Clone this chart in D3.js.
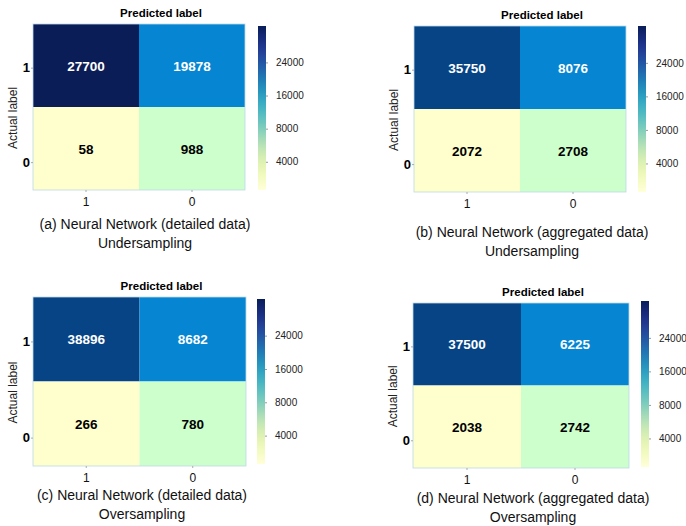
<!DOCTYPE html>
<html>
<head>
<meta charset="utf-8">
<script src="https://cdn.jsdelivr.net/npm/d3@7"></script>
<style>
  html, body { margin: 0; padding: 0; background: #ffffff; }
  svg { display: block; }
  text { font-family: "Liberation Sans", Arial, sans-serif; }
</style>
</head>
<body>
<svg id="chart" width="686" height="526"></svg>
<script>
// ---- data -------------------------------------------------------------
const predictedLabels = ["1", "0"];
const actualLabels = ["1", "0"];
const colorbarTicks = [4000, 8000, 16000, 24000];

const panelTags = ["(a)", "(b)", "(c)", "(d)"];
const modelNames = [
  "Neural Network (detailed data)",
  "Neural Network (aggregated data)",
  "Neural Network (detailed data)",
  "Neural Network (aggregated data)"
];
const samplingNames = ["Undersampling", "Undersampling", "Oversampling", "Oversampling"];

// rows = actual label (1, 0), columns = predicted label (1, 0)
const detailedUnder   = [[27700, 19878], [58, 988]];
const aggregatedUnder = [[35750, 8076], [2072, 2708]];
const detailedOver    = [[38896, 8682], [266, 780]];
const aggregatedOver  = [[37500, 6225], [2038, 2742]];
const matrices = [detailedUnder, aggregatedUnder, detailedOver, aggregatedOver];

// ---- layout of the four sub-plots -------------------------------------
const layouts = [
  { x0: 33,  x1: 245, y0: 24,  y1: 190, cx0: 258, cy0: 26,  cy1: 190, cap: 229, capX: 145 },
  { x0: 414, x1: 626, y0: 26,  y1: 192, cx0: 638, cy0: 26,  cy1: 192, cap: 237, capX: 532 },
  { x0: 33,  x1: 246, y0: 297, y1: 466, cx0: 257, cy0: 299, cy1: 464, cap: 500, capX: 142 },
  { x0: 413, x1: 629, y0: 303, y1: 468, cx0: 641, cy0: 301, cy1: 467, cap: 503, capX: 533 }
];

// cell shades, ordered from the smallest to the largest count of a matrix
const shadeRamp = ["#ffffcd", "#ccffcc", "#0585d2", "#074486"];
const shadeRampDeep = ["#ffffcd", "#ccffcc", "#0585d2", "#0b1d56"];

const svg = d3.select("#chart");
const font = '"Liberation Sans", Arial, sans-serif';

// shared gradient for the colour bars (YlGnBu, light at the bottom)
const defs = svg.append("defs");
const grad = defs.append("linearGradient")
  .attr("id", "ylgnbu").attr("x1", 0).attr("y1", 1).attr("x2", 0).attr("y2", 0);
d3.range(0, 1.0001, 0.05).forEach(t => {
  grad.append("stop").attr("offset", t).attr("stop-color", d3.interpolateYlGnBu(t));
});

matrices.forEach((m, i) => {
  const L = layouts[i];
  const g = svg.append("g");

  const x = d3.scaleBand().domain(predictedLabels).range([L.x0, L.x1]);
  const y = d3.scaleBand().domain(actualLabels).range([L.y0, L.y1]);
  const h = L.y1 - L.y0;
  const yLab = d3.scalePoint().domain(actualLabels)
    .range([L.y0 + 0.263 * h, L.y0 + 0.832 * h]);

  const cells = [];
  actualLabels.forEach((a, r) => predictedLabels.forEach((p, c) => {
    cells.push({ actual: a, predicted: p, value: m[r][c] });
  }));
  const sorted = cells.map(d => d.value).sort(d3.ascending);
  const shade = d3.scaleOrdinal().domain(sorted).range(i === 0 ? shadeRampDeep : shadeRamp);

  g.selectAll("rect.cell").data(cells).join("rect")
    .attr("class", "cell")
    .attr("x", d => x(d.predicted))
    .attr("y", d => y(d.actual))
    .attr("width", x.bandwidth())
    .attr("height", y.bandwidth())
    .attr("fill", d => shade(d.value));

  // faint frame around the matrix
  g.append("rect")
    .attr("x", L.x0).attr("y", L.y0)
    .attr("width", L.x1 - L.x0).attr("height", h)
    .attr("fill", "none").attr("stroke", "#bcd8e8").attr("stroke-width", 0.8);

  g.selectAll("text.val").data(cells).join("text")
    .attr("class", "val")
    .attr("x", d => x(d.predicted) + x.bandwidth() / 2)
    .attr("y", d => y(d.actual) + y.bandwidth() / 2 + 5)
    .attr("text-anchor", "middle")
    .attr("font-size", 13.5)
    .attr("font-weight", "bold")
    .attr("fill", d => sorted.indexOf(d.value) >= 2 ? "#ffffff" : "#000000")
    .text(d => d.value);

  // x axis (predicted label)
  const xAxis = g.append("g").attr("transform", `translate(0,${L.y1})`)
    .call(d3.axisBottom(x).tickSize(2).tickPadding(5));
  xAxis.select(".domain").remove();
  xAxis.selectAll("line").attr("stroke", "#aaaaaa");
  xAxis.selectAll("text").attr("font-size", 12).attr("font-family", font).attr("fill", "#111");

  // y axis (actual label)
  const yAxis = g.append("g").attr("transform", `translate(${L.x0},0)`)
    .call(d3.axisLeft(yLab).tickSize(2).tickPadding(1));
  yAxis.select(".domain").remove();
  yAxis.selectAll("line").attr("stroke", "#aaaaaa");
  yAxis.selectAll("text").attr("font-size", 13).attr("font-weight", "bold")
    .attr("font-family", font).attr("fill", "#000");

  g.append("text")
    .attr("x", (L.x0 + L.x1) / 2 + 22)
    .attr("y", L.y0 - 7)
    .attr("text-anchor", "middle")
    .attr("font-size", 11.5).attr("font-weight", "bold").attr("fill", "#000")
    .text("Predicted label");

  const midY = (yLab("1") + yLab("0")) / 2 + 3;
  g.append("text")
    .attr("transform", `translate(${L.x0 - 16},${midY}) rotate(-90)`)
    .attr("text-anchor", "middle")
    .attr("font-size", 12).attr("fill", "#222")
    .text("Actual label");

  // colour bar
  const cw = 8;
  g.append("rect")
    .attr("x", L.cx0).attr("y", L.cy0)
    .attr("width", cw).attr("height", L.cy1 - L.cy0)
    .attr("fill", "url(#ylgnbu)");
  const ch = L.cy1 - L.cy0;
  const cbar = d3.scalePoint().domain(colorbarTicks)
    .range([L.cy1 - 0.172 * ch, L.cy0 + 0.222 * ch]);
  const cAxis = g.append("g").attr("transform", `translate(${L.cx0 + cw},0)`)
    .call(d3.axisRight(cbar).tickSize(2).tickPadding(8));
  cAxis.select(".domain").remove();
  cAxis.selectAll("line").attr("stroke", "#999999");
  cAxis.selectAll("text").attr("font-size", 10).attr("font-family", font).attr("fill", "#222");

  // caption
  const cap = g.append("text")
    .attr("text-anchor", "middle")
    .attr("font-size", 14).attr("fill", "#111");
  cap.append("tspan").attr("x", L.capX).attr("y", L.cap)
    .text(`${panelTags[i]} ${modelNames[i]}`);
  cap.append("tspan").attr("x", L.capX).attr("y", L.cap + 19)
    .text(samplingNames[i]);
});
</script>
</body>
</html>
